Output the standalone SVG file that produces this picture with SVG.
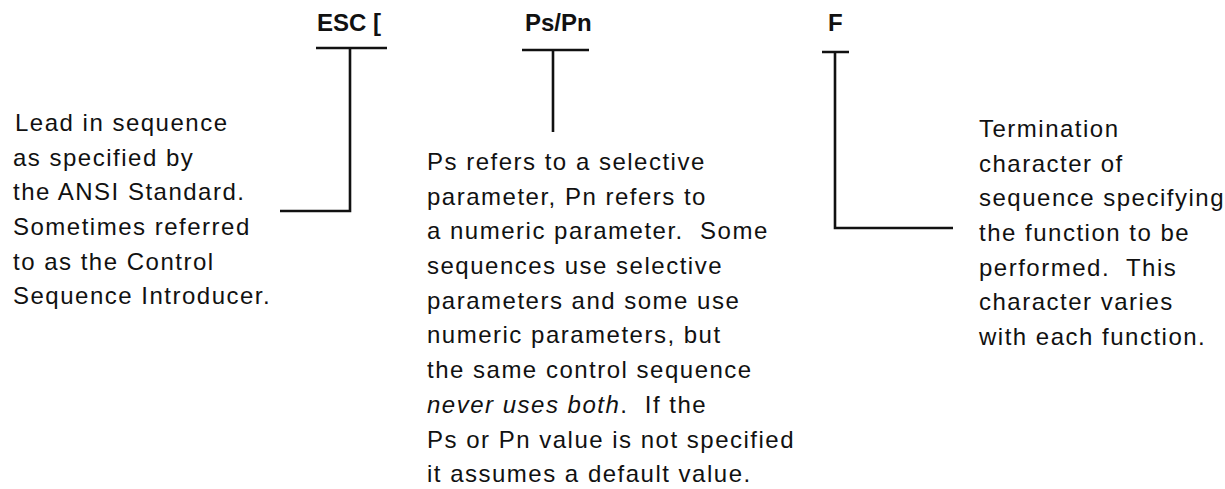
<svg xmlns="http://www.w3.org/2000/svg" width="1225" height="489" viewBox="0 0 1225 489">
<style>
text{font-family:"Liberation Sans",Arial,sans-serif;fill:#111;white-space:pre}
.h{font-size:24px;font-weight:bold}
.b{font-size:24px;letter-spacing:1.5px}
.it{font-style:italic}
.ln{stroke:#111;stroke-width:2.6;fill:none}
</style>
<rect width="1225" height="489" fill="#fff"/>
<g id="connectors">
<path class="ln" d="M316 48H387M350 48V211H280"/>
<path class="ln" d="M522 50H589M553 50V132"/>
<path class="ln" d="M822 52H849M835 52V228H953"/>
</g>
<g id="node-esc">
<text class="h" x="317" y="31">ESC [</text>
</g>
<g id="node-pspn">
<text class="h" x="525" y="31">Ps/Pn</text>
</g>
<g id="node-f">
<text class="h" x="828" y="31">F</text>
</g>
<g id="desc-esc">
<text class="b">
<tspan x="15" y="131">Lead in sequence</tspan>
<tspan x="13" y="166">as specified by</tspan>
<tspan x="13" y="200">the ANSI Standard.</tspan>
<tspan x="13" y="235">Sometimes referred</tspan>
<tspan x="13" y="270">to as the Control</tspan>
<tspan x="13" y="304">Sequence Introducer.</tspan>
</text>
</g>
<g id="desc-pspn">
<text class="b">
<tspan x="427" y="170">Ps refers to a selective</tspan>
<tspan x="427" y="205">parameter, Pn refers to</tspan>
<tspan x="427" y="239">a numeric parameter.  Some</tspan>
<tspan x="427" y="274">sequences use selective</tspan>
<tspan x="427" y="309">parameters and some use</tspan>
<tspan x="427" y="343">numeric parameters, but</tspan>
<tspan x="427" y="378">the same control sequence</tspan>
<tspan x="427" y="413"><tspan class="it">never uses both</tspan>.  If the</tspan>
<tspan x="427" y="448">Ps or Pn value is not specified</tspan>
<tspan x="427" y="482">it assumes a default value.</tspan>
</text>
</g>
<g id="desc-f">
<text class="b">
<tspan x="979" y="137">Termination</tspan>
<tspan x="979" y="172">character of</tspan>
<tspan x="979" y="206">sequence specifying</tspan>
<tspan x="979" y="241">the function to be</tspan>
<tspan x="979" y="276">performed.  This</tspan>
<tspan x="979" y="310">character varies</tspan>
<tspan x="979" y="345">with each function.</tspan>
</text>
</g>
</svg>
